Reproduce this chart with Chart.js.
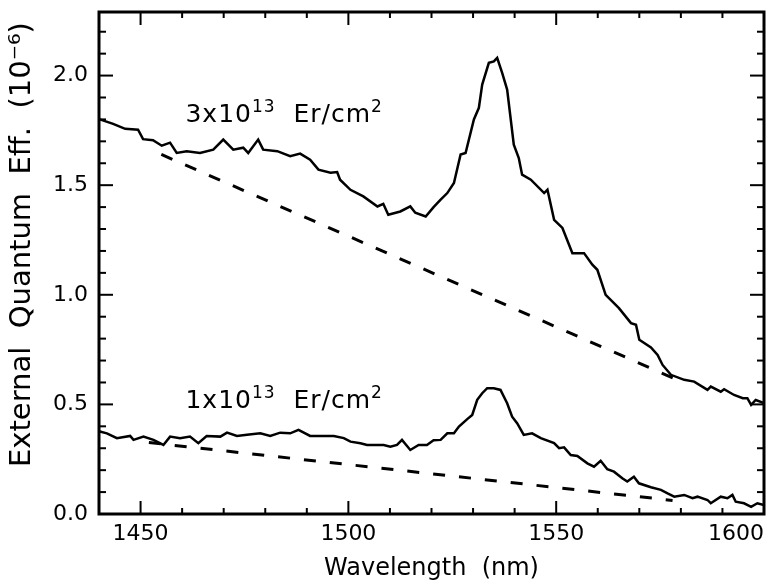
<!DOCTYPE html>
<html>
<head>
<meta charset="utf-8">
<script src="https://cdn.jsdelivr.net/npm/chart.js@4.4.1/dist/chart.umd.min.js"></script>
<style>
  html, body { margin: 0; padding: 0; background: #fff; }
  canvas { display: block; }
</style>
</head>
<body>
<canvas id="c" width="770" height="585"></canvas>
<script>
// ---- Data ----
const hiWl = [1440.2,1443.4,1446.3,1449.4,1450.6,1453.0,1455.1,1457.1,1458.7,1461.1,1464.3,1467.5,1469.9,1472.3,1474.7,1475.9,1478.3,1479.5,1482.9,1486.0,1488.4,1490.8,1492.8,1495.7,1497.3,1498.0,1500.5,1503.6,1507.0,1508.4,1509.6,1512.5,1514.9,1516.1,1518.6,1520.5,1522.2,1523.8,1525.4,1527.0,1528.2,1530.2,1531.4,1532.2,1533.8,1535.0,1535.8,1537.0,1538.2,1539.8,1541.0,1541.8,1543.9,1547.1,1547.9,1549.5,1551.5,1553.9,1556.7,1558.7,1559.9,1561.9,1565.1,1568.0,1569.2,1570.0,1572.8,1574.4,1575.6,1577.6,1580.8,1583.2,1586.4,1587.2,1589.6,1590.4,1592.8,1594.9,1596.0,1596.9,1598.0,1600.0];
const hiVal = [1.80,1.78,1.757,1.753,1.71,1.705,1.68,1.694,1.647,1.655,1.647,1.662,1.708,1.662,1.671,1.647,1.708,1.662,1.655,1.632,1.644,1.616,1.571,1.557,1.56,1.525,1.479,1.449,1.403,1.415,1.365,1.38,1.403,1.374,1.357,1.40,1.434,1.464,1.51,1.64,1.647,1.80,1.853,1.959,2.058,2.065,2.081,2.012,1.936,1.685,1.624,1.548,1.525,1.464,1.479,1.342,1.305,1.19,1.19,1.137,1.114,1.0,0.939,0.871,0.863,0.795,0.760,0.726,0.68,0.635,0.612,0.604,0.566,0.581,0.558,0.569,0.543,0.528,0.528,0.498,0.52,0.506];

const loWl = [1440.2,1441.9,1444.3,1447.5,1448.3,1450.7,1453.1,1455.5,1457.1,1459.5,1461.9,1463.9,1465.9,1469.2,1470.8,1473.2,1475.6,1478.8,1481.2,1483.6,1486.0,1488.0,1490.8,1493.3,1496.5,1498.9,1500.5,1502.9,1504.5,1506.9,1508.5,1510.1,1511.7,1512.9,1514.9,1516.9,1518.9,1520.5,1522.2,1523.8,1525.4,1526.6,1528.6,1529.8,1531.0,1532.2,1533.4,1535.0,1536.6,1538.2,1539.4,1540.6,1542.2,1544.2,1546.3,1549.5,1550.7,1551.9,1553.5,1555.1,1557.5,1559.1,1560.7,1562.3,1563.9,1565.9,1567.1,1568.7,1569.9,1572.8,1575.2,1576.8,1578.4,1580.8,1582.8,1584.0,1586.4,1587.2,1589.6,1591.2,1592.4,1593.2,1595.2,1596.9,1598.4,1600.0];
const loVal = [0.376,0.368,0.346,0.356,0.338,0.353,0.338,0.315,0.353,0.346,0.353,0.323,0.356,0.353,0.371,0.356,0.361,0.368,0.356,0.371,0.368,0.384,0.356,0.356,0.356,0.346,0.33,0.323,0.315,0.315,0.315,0.307,0.315,0.338,0.292,0.315,0.315,0.336,0.338,0.368,0.368,0.399,0.433,0.452,0.521,0.551,0.574,0.574,0.566,0.505,0.444,0.414,0.361,0.368,0.346,0.323,0.30,0.304,0.269,0.265,0.231,0.216,0.243,0.204,0.193,0.163,0.148,0.17,0.14,0.122,0.11,0.094,0.079,0.087,0.072,0.079,0.064,0.049,0.079,0.072,0.087,0.056,0.049,0.033,0.049,0.041];

// dashed background lines
const hiBaseWl = [1455, 1580];
const hiBaseVal = [1.64, 0.605];
const loBaseWl = [1452, 1578];
const loBaseVal = [0.326, 0.062];

// ticks
const xTickVals = [1450, 1500, 1550, 1600];
const xMinorVals = [1450,1460,1470,1480,1490,1500,1510,1520,1530,1540,1550,1560,1570,1580,1590,1600];
const yTickVals = [0, 0.5, 1.0, 1.5, 2.0];
const yMinorVals = [0.1,0.2,0.3,0.4,0.6,0.7,0.8,0.9,1.1,1.2,1.3,1.4,1.6,1.7,1.8,1.9,2.1,2.2];

// labels
const xTitle = 'Wavelength  (nm)';
const yTitle = '    External  Quantum  Eff.  (10\u207B\u2076)';
// annotation pieces: [text, isSuperscript]
const hiLabelParts = [['3x10', false], ['13', true], ['  Er/cm', false], ['2', true]];
const loLabelParts = [['1x10', false], ['13', true], ['  Er/cm', false], ['2', true]];

const FONT = "'DejaVu Sans', sans-serif";

const toPts = (xs, ys) => xs.map((x, i) => ({ x, y: ys[i] }));

function drawRich(ctx, parts, x0, y0) {
  let x = x0;
  for (const [t, sup] of parts) {
    ctx.font = (sup ? '17px ' : '25px ') + FONT;
    const y = sup ? y0 - 10 : y0;
    ctx.fillText(t, x, y);
    x += ctx.measureText(t).width;
  }
}

const noAutoPad = s => { s.paddingTop = 0; s.paddingBottom = 0; s.paddingLeft = 0; s.paddingRight = 0; };

const frameTicks = {
  id: 'frameTicks',
  afterDatasetsDraw(chart) {
    const { ctx, chartArea: a, scales: { x, y } } = chart;
    ctx.save();
    ctx.strokeStyle = '#000';
    ctx.lineCap = 'butt';
    ctx.lineWidth = 2;
    const seg = (x1, y1, x2, y2) => { ctx.beginPath(); ctx.moveTo(x1, y1); ctx.lineTo(x2, y2); ctx.stroke(); };
    for (const v of xMinorVals) {
      const px = x.getPixelForValue(v);
      const L = xTickVals.includes(v) ? 13 : 6;
      seg(px, a.bottom, px, a.bottom - L);
      seg(px, a.top, px, a.top + L);
    }
    for (const v of yTickVals.concat(yMinorVals)) {
      const py = y.getPixelForValue(v);
      const L = yTickVals.includes(v) ? 14 : 7;
      seg(a.left, py, a.left + L, py);
      seg(a.right, py, a.right - L, py);
    }
    ctx.lineWidth = 3;
    ctx.strokeRect(a.left, a.top, a.right - a.left, a.bottom - a.top);
    // annotations
    ctx.fillStyle = '#000';
    ctx.textAlign = 'left';
    ctx.textBaseline = 'alphabetic';
    try { ctx.letterSpacing = '1px'; } catch (e) {}
    drawRich(ctx, hiLabelParts, x.getPixelForValue(1460.8), y.getPixelForValue(1.79));
    drawRich(ctx, loLabelParts, x.getPixelForValue(1460.8), y.getPixelForValue(0.484));
    try { ctx.letterSpacing = '0px'; } catch (e) {}
    ctx.restore();
  }
};

new Chart(document.getElementById('c').getContext('2d'), {
  type: 'line',
  data: {
    datasets: [
      { data: toPts(hiWl, hiVal), borderColor: '#000', borderWidth: 2.5, pointRadius: 0, tension: 0, fill: false },
      { data: toPts(loWl, loVal), borderColor: '#000', borderWidth: 2.5, pointRadius: 0, tension: 0, fill: false },
      { data: toPts(hiBaseWl, hiBaseVal), borderColor: '#000', borderWidth: 3, borderDash: [12, 14], pointRadius: 0, fill: false },
      { data: toPts(loBaseWl, loBaseVal), borderColor: '#000', borderWidth: 3, borderDash: [12, 14], pointRadius: 0, fill: false }
    ]
  },
  options: {
    responsive: false,
    animation: false,
    devicePixelRatio: 1,
    layout: { padding: { top: 12, right: 6, left: 0, bottom: 0 } },
    plugins: { legend: { display: false }, tooltip: { enabled: false } },
    scales: {
      x: {
        type: 'linear', min: 1440, max: 1600,
        afterBuildTicks: s => { s.ticks = [1440].concat(xTickVals).map(v => ({ value: v })); },
        afterFit: s => { s.height = 71; noAutoPad(s); },
        grid: { display: false, drawTicks: false },
        border: { display: false },
        ticks: {
          align: 'inner', autoSkip: false, maxRotation: 0, minRotation: 0, padding: 7,
          color: '#000', font: { family: FONT, size: 22 },
          callback: v => xTickVals.includes(v) ? String(v) : ''
        },
        title: { display: true, text: xTitle, color: '#000', font: { family: FONT, size: 24 }, padding: { top: 0, bottom: 2 } }
      },
      y: {
        type: 'linear', min: 0, max: 2.29,
        afterBuildTicks: s => { s.ticks = yTickVals.map(v => ({ value: v })); },
        afterFit: s => { s.width = 99; noAutoPad(s); },
        grid: { display: false, drawTicks: false },
        border: { display: false },
        ticks: {
          padding: 11, color: '#000', font: { family: FONT, size: 22 },
          callback: v => Number(v).toFixed(1)
        },
        title: { display: true, text: yTitle, color: '#000', font: { family: FONT, size: 29 }, padding: { top: 5, bottom: 0 } }
      }
    }
  },
  plugins: [frameTicks]
});
</script>
</body>
</html>
